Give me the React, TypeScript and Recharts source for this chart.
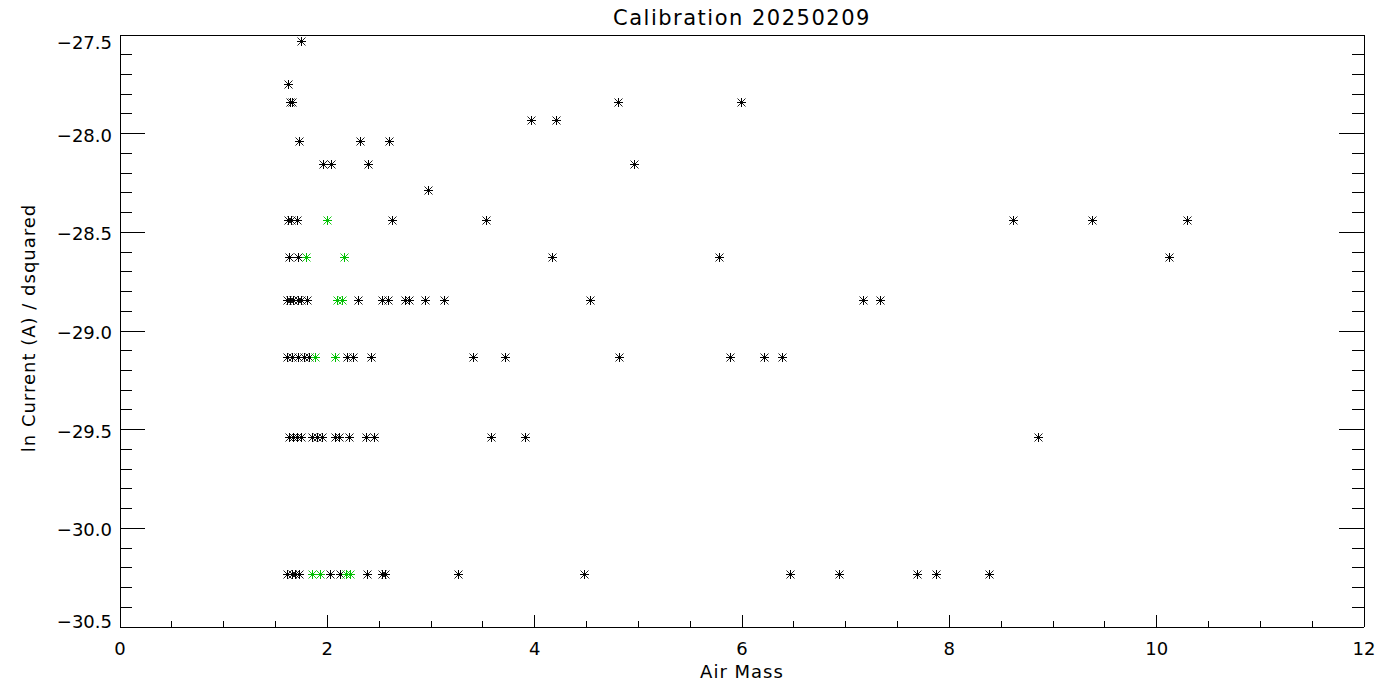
import React from 'react';
import { ScatterChart, Scatter, XAxis, YAxis } from 'recharts';

// ln Current (A) / dsquared levels (discrete rows in the plot)
const lnCurrentLevels = [
  -27.529, -27.75, -27.837, -27.932, -28.036, -28.155, -28.287,
  -28.44, -28.623, -28.844, -29.133, -29.539, -30.233,
];

// Air mass values of black points, one list per level above
const blackAirMass: number[][] = [
  [1.746],
  [1.624],
  [1.64, 1.662, 4.807, 5.99],
  [3.965, 4.206],
  [1.73, 2.318, 2.598],
  [1.955, 2.04, 2.395, 4.961],
  [2.968],
  [1.624, 1.647, 1.704, 2.62, 3.527, 8.617, 9.379, 10.295],
  [1.63, 1.72, 4.17, 5.78, 10.122],
  [1.608, 1.64, 1.672, 1.72, 1.75, 1.804, 2.3, 2.527, 2.588, 2.75, 2.79, 2.945, 3.128, 4.537, 7.17, 7.334],
  [1.615, 1.66, 1.72, 1.775, 1.825, 2.19, 2.25, 2.42, 3.408, 3.711, 4.813, 5.884, 6.212, 6.383],
  [1.633, 1.672, 1.71, 1.743, 1.849, 1.903, 1.951, 2.074, 2.112, 2.212, 2.37, 2.453, 3.579, 3.907, 8.858],
  [1.615, 1.655, 1.69, 1.73, 2.026, 2.12, 2.385, 2.524, 2.556, 3.264, 4.476, 6.463, 6.938, 7.691, 7.871, 8.382],
];

// Air mass values of green points, one list per level above
const greenAirMass: number[][] = [
  [], [], [], [], [], [], [],
  [2.0],
  [1.79, 2.164],
  [2.096, 2.138],
  [1.88, 2.077],
  [],
  [1.849, 1.93, 2.18, 2.22],
];

const xTicks = [0, 0.5, 1, 1.5, 2, 2.5, 3, 3.5, 4, 4.5, 5, 5.5, 6, 6.5, 7, 7.5, 8, 8.5, 9, 9.5, 10, 10.5, 11, 11.5, 12];
const xTickLabels = ['0', '2', '4', '6', '8', '10', '12'];
const yTicks = [
  -30.5, -30.4, -30.3, -30.2, -30.1, -30.0, -29.9, -29.8, -29.7, -29.6,
  -29.5, -29.4, -29.3, -29.2, -29.1, -29.0, -28.9, -28.8, -28.7, -28.6,
  -28.5, -28.4, -28.3, -28.2, -28.1, -28.0, -27.9, -27.8, -27.7, -27.6, -27.5,
];
const yTickLabels = ['−30.5', '−30.0', '−29.5', '−29.0', '−28.5', '−28.0', '−27.5'];

const title = 'Calibration 20250209';
const xTitle = 'Air Mass';
const yTitle = 'ln Current (A) / dsquared';

const blackData = lnCurrentLevels.flatMap((y, i) => blackAirMass[i].map((x) => ({ x, y })));
const greenData = lnCurrentLevels.flatMap((y, i) => greenAirMass[i].map((x) => ({ x, y })));

const FONT = 'DejaVu Sans, Liberation Sans, sans-serif';
const GREEN = '#00c000';

const isXMajor = (v: number) => Math.abs(v / 2 - Math.round(v / 2)) < 1e-6;
const isYMajor = (v: number) => Math.abs(v * 2 - Math.round(v * 2)) < 1e-6;
const xLabel = (v: number) => xTickLabels[Math.round(v / 2)];
const yLabel = (v: number) => yTickLabels[Math.round((v + 30.5) * 2)];

const Asterisk = (props: any) => {
  const { cx, cy, color } = props;
  if (cx == null || cy == null) return null;
  const px = Math.round(cx) + 0.5;
  const py = Math.round(cy) + 0.5;
  const a = 4.5;
  const d = 4;
  return (
    <g stroke={color} strokeWidth={1}>
      <line x1={px - a} y1={py} x2={px + a} y2={py} />
      <line x1={px} y1={py - a} x2={px} y2={py + a} />
      <line x1={px - d} y1={py - d} x2={px + d} y2={py + d} strokeWidth={0.9} />
      <line x1={px - d} y1={py + d} x2={px + d} y2={py - d} strokeWidth={0.9} />
      <circle cx={px} cy={py} r={1.3} fill={color} stroke="none" />
    </g>
  );
};

const BottomTick = (props: any) => {
  const { x, y, payload } = props;
  const v = payload.value;
  const major = isXMajor(v);
  const len = major ? 12 : 6;
  return (
    <g>
      <line x1={x} x2={x} y1={y} y2={y - len} stroke="#000" strokeWidth={1} shapeRendering="crispEdges" />
      {major && (
        <text x={x} y={y + 28} textAnchor="middle" fontSize={18} fontFamily={FONT} fill="#000">
          {xLabel(v)}
        </text>
      )}
    </g>
  );
};

const TopTick = (props: any) => {
  const { x, y, payload } = props;
  const len = isXMajor(payload.value) ? 12 : 6;
  return <line x1={x} x2={x} y1={y} y2={y + len} stroke="#000" strokeWidth={1} shapeRendering="crispEdges" />;
};

const LeftTick = (props: any) => {
  const { x, y, payload } = props;
  const v = payload.value;
  const major = isYMajor(v);
  const len = major ? 25 : 12;
  let dy = 8;
  if (Math.abs(v + 30.5) < 1e-6) dy = 1;
  if (Math.abs(v + 27.5) < 1e-6) dy = 14;
  return (
    <g>
      <line x1={x} x2={x + len} y1={y} y2={y} stroke="#000" strokeWidth={1} shapeRendering="crispEdges" />
      {major && (
        <text x={x - 8} y={y + dy} textAnchor="end" fontSize={18} fontFamily={FONT} fill="#000">
          {yLabel(v)}
        </text>
      )}
    </g>
  );
};

const RightTick = (props: any) => {
  const { x, y, payload } = props;
  const len = isYMajor(payload.value) ? 25 : 12;
  return <line x1={x} x2={x - len} y1={y} y2={y} stroke="#000" strokeWidth={1} shapeRendering="crispEdges" />;
};

const axisLineStyle = { stroke: '#000', strokeWidth: 1, shapeRendering: 'crispEdges' } as any;

export default function App() {
  return (
    <div style={{ position: 'absolute', left: 0, top: 0, width: 1400, height: 700, background: '#fff' }}>
      <ScatterChart width={1400} height={700} margin={{ top: 34, right: 35, bottom: 72, left: 119 }}>
        <XAxis
          xAxisId={0}
          type="number"
          dataKey="x"
          domain={[0, 12]}
          ticks={xTicks}
          interval={0}
          height={1}
          tickSize={0}
          tickMargin={0}
          tickLine={false}
          axisLine={axisLineStyle}
          tick={<BottomTick />}
          allowDataOverflow
        />
        <XAxis
          xAxisId="top"
          orientation="top"
          type="number"
          domain={[0, 12]}
          ticks={xTicks}
          interval={0}
          height={1}
          tickSize={0}
          tickMargin={0}
          tickLine={false}
          axisLine={axisLineStyle}
          tick={<TopTick />}
          allowDataOverflow
        />
        <YAxis
          yAxisId={0}
          type="number"
          dataKey="y"
          domain={[-30.5, -27.5]}
          ticks={yTicks}
          interval={0}
          width={1}
          tickSize={0}
          tickMargin={0}
          tickLine={false}
          axisLine={axisLineStyle}
          tick={<LeftTick />}
          allowDataOverflow
        />
        <YAxis
          yAxisId="right"
          orientation="right"
          type="number"
          domain={[-30.5, -27.5]}
          ticks={yTicks}
          interval={0}
          width={1}
          tickSize={0}
          tickMargin={0}
          tickLine={false}
          axisLine={axisLineStyle}
          tick={<RightTick />}
          allowDataOverflow
        />
        <Scatter
          xAxisId={0}
          yAxisId={0}
          data={blackData}
          isAnimationActive={false}
          shape={(p: any) => <Asterisk cx={p.cx} cy={p.cy} color="#000" />}
        />
        <Scatter
          xAxisId={0}
          yAxisId={0}
          data={greenData}
          isAnimationActive={false}
          shape={(p: any) => <Asterisk cx={p.cx} cy={p.cy} color={GREEN} />}
        />
      </ScatterChart>
      <svg width={1400} height={700} style={{ position: 'absolute', left: 0, top: 0, pointerEvents: 'none' }}>
        <text x={742} y={25} textAnchor="middle" fontSize={21} letterSpacing={1.5} fontFamily={FONT} fill="#000">
          {title}
        </text>
        <text x={742} y={678} textAnchor="middle" fontSize={18} letterSpacing={1} fontFamily={FONT} fill="#000">
          {xTitle}
        </text>
        <text
          transform="translate(35,328) rotate(-90)"
          textAnchor="middle"
          fontSize={18}
          letterSpacing={1}
          fontFamily={FONT}
          fill="#000"
        >
          {yTitle}
        </text>
      </svg>
    </div>
  );
}
